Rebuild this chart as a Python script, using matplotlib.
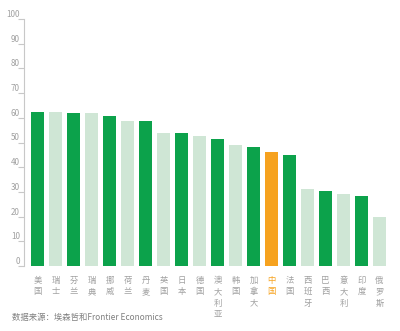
import matplotlib
matplotlib.use("Agg")
import matplotlib.pyplot as plt

plt.rcParams['font.family'] = ['Noto Sans CJK SC', 'DejaVu Sans']

countries = ["美国", "瑞士", "芬兰", "瑞典", "挪威", "荷兰", "丹麦", "英国", "日本", "德国",
             "澳大利亚", "韩国", "加拿大", "中国", "法国", "西班牙", "巴西", "意大利", "印度", "俄罗斯"]
values = [62.3, 62.3, 61.8, 61.8, 60.7, 58.8, 58.6, 54.0, 53.7, 52.8,
          51.4, 49.0, 48.2, 46.2, 44.8, 31.3, 30.5, 29.3, 28.3, 19.7]
highlight = "中国"
yticks = [0, 10, 20, 30, 40, 50, 60, 70, 80, 90, 100]

DARK = "#0ca24b"
LIGHT = "#cfe6d5"
ORANGE = "#f6a21f"
GRAY = "#a0a0a0"

colors = []
for i, c in enumerate(countries):
    if c == highlight:
        colors.append(ORANGE)
    else:
        colors.append(DARK if i % 2 == 0 else LIGHT)

fig = plt.figure(figsize=(4.0, 3.31), dpi=100)
ax = fig.add_axes([24/400, (331-266)/331, 372/400, (266-19)/331])

x = list(range(len(countries)))
ax.bar(x, values, width=0.75, color=colors, zorder=2)
ax.set_xlim(-0.75, (396-37.5)/18)
ax.set_ylim(0, 100)

for s in ["top", "right", "bottom"]:
    ax.spines[s].set_visible(False)
ax.spines["left"].set_color("#c8c8c8")
ax.spines["left"].set_linewidth(0.8)

ax.set_yticks(yticks)
ax.set_yticklabels([str(v) for v in yticks])
ax.tick_params(axis='y', length=4, width=0.8, color="#c8c8c8", pad=-1,
               labelsize=5.8, labelcolor=GRAY)
for lab in ax.get_yticklabels():
    lab.set_verticalalignment('bottom')

ax.set_xticks(x)
ax.set_xticklabels(["\n".join(c) for c in countries], linespacing=1.35)
ax.tick_params(axis='x', length=0, pad=7, labelsize=6, labelcolor=GRAY)
for lab, c in zip(ax.get_xticklabels(), countries):
    lab.set_verticalalignment('top')
    if c == highlight:
        lab.set_color(ORANGE)

fig.text(12/400, 1 - 317/331, "数据来源：埃森哲和Frontier Economics", fontsize=6,
         color="#808080", va='center', ha='left')

fig.savefig("out.png", dpi=100)
